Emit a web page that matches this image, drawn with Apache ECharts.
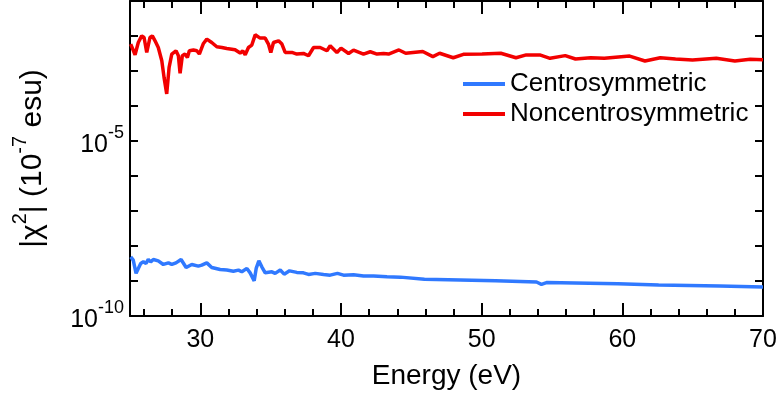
<!DOCTYPE html>
<html>
<head>
<meta charset="utf-8">
<script src="https://cdn.jsdelivr.net/npm/echarts@6/dist/echarts.min.js"></script>
<style>html,body{margin:0;padding:0;background:#fff;}#c{width:781px;height:400px;}</style>
</head>
<body>
<div id="c"></div>
<script>
// Energy (eV) and |chi2| values (10^-7 esu)
var energyNon = [25.05,25.36,25.59,25.83,26.00,26.19,26.42,26.59,26.78,27.01,27.26,27.42,27.61,27.78,27.97,28.27,28.44,28.56,28.72,28.91,29.08,29.22,29.51,29.75,29.93,30.22,30.46,30.81,31.17,31.53,31.88,32.47,32.83,33.02,33.19,33.42,33.66,33.90,34.02,34.25,34.61,34.84,35.01,35.20,35.56,35.80,36.03,36.51,36.86,37.33,37.69,38.05,38.52,39.00,39.23,39.71,40.00,40.54,40.89,41.60,42.08,42.56,43.03,43.38,44.12,44.60,45.81,46.53,47.01,47.98,48.70,50.03,51.36,52.44,53.17,54.13,54.86,55.94,56.67,57.75,58.72,60.52,61.61,62.70,63.78,64.99,66.68,68.00,69.09,70.00];
var valueNon = [5.87e-3,2.91e-3,6.53e-3,1.01e-2,9.06e-3,3.39e-3,9.06e-3,1.01e-2,7.29e-3,4.70e-3,1.96e-3,6.58e-4,2.21e-4,1.27e-3,3.05e-3,3.78e-3,2.73e-3,8.55e-4,2.73e-3,3.05e-3,2.44e-3,3.78e-3,3.96e-3,3.78e-3,3.05e-3,6.11e-3,8.17e-3,6.53e-3,4.92e-3,4.70e-3,4.41e-3,4.05e-3,3.26e-3,3.78e-3,2.91e-3,4.70e-3,5.51e-3,1.08e-2,1.13e-2,8.71e-3,8.71e-3,5.87e-3,3.39e-3,6.53e-3,7.29e-3,5.87e-3,3.39e-3,3.39e-3,3.05e-3,3.17e-3,2.73e-3,4.70e-3,4.70e-3,3.78e-3,5.26e-3,3.39e-3,4.52e-3,3.17e-3,3.96e-3,3.05e-3,3.55e-3,3.05e-3,3.17e-3,3.05e-3,3.99e-3,3.21e-3,3.60e-3,2.57e-3,3.21e-3,2.39e-3,2.99e-3,3.07e-3,3.21e-3,2.39e-3,2.88e-3,2.88e-3,2.30e-3,2.75e-3,2.20e-3,2.39e-3,2.30e-3,2.67e-3,1.93e-3,2.39e-3,2.20e-3,2.06e-3,2.30e-3,1.93e-3,2.15e-3,2.10e-3];
var energyCen = [25.05,25.23,25.43,25.59,25.76,25.95,26.14,26.30,26.47,26.66,27.01,27.37,27.73,27.97,28.27,28.63,28.99,29.39,29.86,30.10,30.46,30.81,31.41,31.88,32.35,32.71,32.95,33.31,33.54,33.83,33.97,34.16,34.37,34.61,35.09,35.32,35.68,35.96,36.34,36.86,37.33,37.69,38.17,38.76,39.23,39.75,40.18,40.89,41.60,42.32,43.27,44.22,45.93,51.00,53.90,54.25,54.61,59.68,62.58,66.92,70.00];
var valueCen = [4.89e-9,3.94e-9,1.65e-9,2.29e-9,3.17e-9,3.52e-9,3.17e-9,4.12e-9,3.52e-9,4.12e-9,3.76e-9,2.97e-9,3.30e-9,2.97e-9,3.30e-9,4.12e-9,2.44e-9,2.97e-9,2.66e-9,2.84e-9,3.30e-9,2.44e-9,2.14e-9,2.05e-9,1.91e-9,2.05e-9,1.83e-9,2.29e-9,1.71e-9,1.01e-9,2.29e-9,3.76e-9,2.54e-9,1.71e-9,1.83e-9,1.65e-9,2.05e-9,1.57e-9,1.95e-9,1.76e-9,1.71e-9,1.54e-9,1.65e-9,1.54e-9,1.47e-9,1.65e-9,1.47e-9,1.50e-9,1.38e-9,1.38e-9,1.32e-9,1.29e-9,1.12e-9,1.01e-9,9.37e-10,8.05e-10,9.00e-10,8.38e-10,7.69e-10,7.21e-10,6.79e-10];
var xMajorTicks = [30,40,50,60,70];
var xMinorTicks = [26,28,32,34,36,38,42,44,46,48,52,54,56,58,62,64,66,68];
var yLabelExps = [-5,-10];

function pairs(xs, ys){ return xs.map(function(x,i){ return [x, ys[i]]; }); }

var FONT = "'Liberation Sans', Arial, sans-serif";
var BLACK = '#000';

function xAx(pos, ticks, len, withLine, withLabel){
  var a = {
    type:'value', position:pos, min:25, max:70, gridIndex:0,
    axisLine:{show:withLine, onZero:false, lineStyle:{color:BLACK, width:2}},
    axisTick:{show:true, inside:true, length:len, customValues:ticks, lineStyle:{color:BLACK, width:2}},
    splitLine:{show:false},
    axisLabel:{show:withLabel}
  };
  if (withLabel){
    a.axisLabel = {show:true, customValues:xMajorTicks, color:BLACK, fontSize:25, fontFamily:FONT, margin:12};
    a.name = 'Energy (eV)';
    a.nameLocation = 'middle';
    a.nameGap = 46;
    a.nameTextStyle = {color:BLACK, fontSize:28, fontFamily:FONT};
  }
  return a;
}
function yAx(pos, withLabel){
  var a = {
    type:'log', logBase:10, position:pos, min:1e-10, max:1e-1,
    axisLine:{show:true, onZero:false, lineStyle:{color:BLACK, width:2}},
    axisTick:{show:true, inside:true, length:8, lineStyle:{color:BLACK, width:2}},
    splitLine:{show:false},
    axisLabel:{show:false}
  };
  if (withLabel){
    a.axisLabel = {
      show:true, margin:6, fontFamily:FONT,
      formatter:function(v){
        var e = Math.round(Math.log(v)/Math.LN10);
        if (yLabelExps.indexOf(e) >= 0) return '{b|10}{s|' + e + '}';
        return '';
      },
      rich:{
        b:{fontSize:25, color:BLACK, fontFamily:FONT, lineHeight:34, verticalAlign:'bottom'},
        s:{fontSize:18, color:BLACK, fontFamily:FONT, lineHeight:14, verticalAlign:'top'}
      }
    };
    a.name = '{b||χ}{s|2}{b|| (10}{s|-7}{b| esu)}';
    a.nameLocation = 'middle';
    a.nameRotate = 90;
    a.nameGap = 82;
    a.nameTextStyle = {
      color:BLACK, fontFamily:FONT,
      rich:{
        b:{fontSize:30, color:BLACK, fontFamily:FONT, lineHeight:38, verticalAlign:'bottom'},
        s:{fontSize:20, color:BLACK, fontFamily:FONT, lineHeight:16, verticalAlign:'top'}
      }
    };
  }
  return a;
}

var chart = echarts.init(document.getElementById('c'), null, {renderer:'canvas'});
chart.setOption({
  animation:false,
  backgroundColor:'#fff',
  textStyle:{fontFamily:FONT},
  grid:{left:130, right:18, top:1, bottom:84, containLabel:false, outerBoundsMode:'none'},
  legend:{
    orient:'vertical', left:458, top:66, itemWidth:42, itemHeight:4, itemGap:4,
    icon:'rect',
    textStyle:{color:BLACK, fontSize:26, fontFamily:FONT, lineHeight:26},
    data:['Centrosymmetric','Noncentrosymmetric']
  },
  xAxis:[
    xAx('bottom', xMajorTicks, 13, true, true),
    xAx('bottom', xMinorTicks, 7, false, false),
    xAx('top', xMajorTicks, 13, true, false),
    xAx('top', xMinorTicks, 7, false, false)
  ],
  yAxis:[ yAx('left', true), yAx('right', false) ],
  series:[
    {name:'Centrosymmetric', type:'line', xAxisIndex:0, yAxisIndex:0, showSymbol:false, color:'#3079ff',
     lineStyle:{width:3.5, color:'#3079ff'}, data:pairs(energyCen, valueCen)},
    {name:'Noncentrosymmetric', type:'line', xAxisIndex:0, yAxisIndex:0, showSymbol:false, color:'#f20000',
     lineStyle:{width:3.5, color:'#f20000'}, data:pairs(energyNon, valueNon)}
  ]
});
</script>
</body>
</html>
